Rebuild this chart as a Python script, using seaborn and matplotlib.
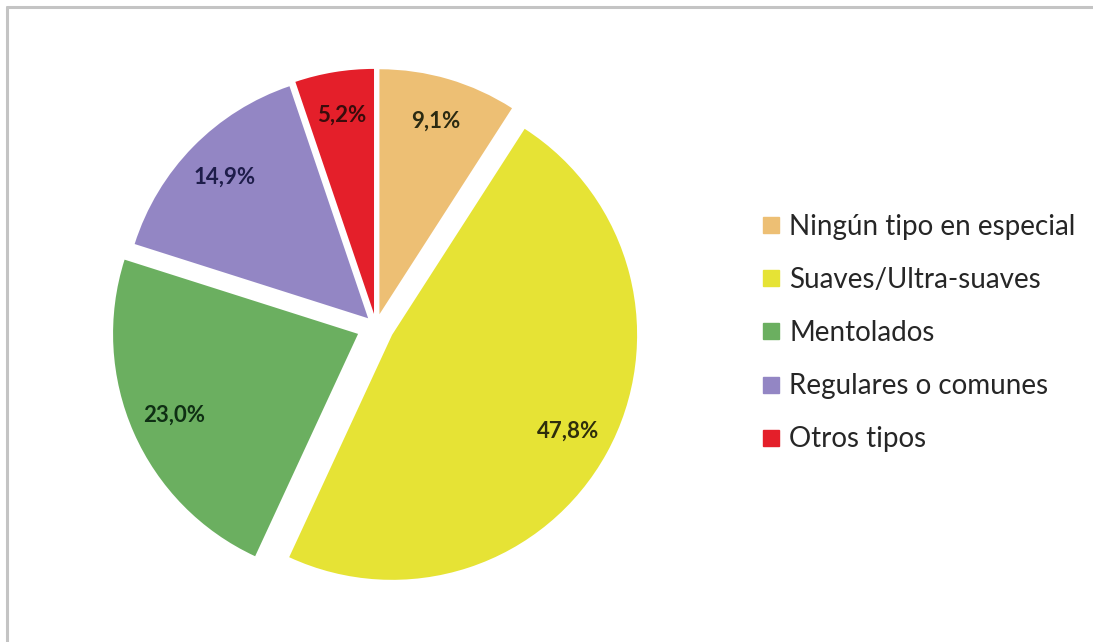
import matplotlib
matplotlib.use('Agg')
import numpy as np
import matplotlib.pyplot as plt
import seaborn as sns
from matplotlib.lines import Line2D

# datos
categorias = ['Ningún tipo en especial', 'Suaves/Ultra-suaves', 'Mentolados',
              'Regulares o comunes', 'Otros tipos']
porcentajes = [9.1, 47.8, 23.0, 14.9, 5.2]
etiquetas = ['9,1%', '47,8%', '23,0%', '14,9%', '5,2%']
separacion = [0.05, 0.075, 0.08, 0.045, 0.05]
colores = ['#EDBF74', '#E6E335', '#6BAF60', '#9386C4', '#E41F2A']
colores_texto = ['#2b2a12', '#2e2e0c', '#0f2f14', '#1e1d4a', '#3a0c0c']

sns.set_theme(style='white')
plt.rcParams['font.family'] = ['Lato', 'DejaVu Sans']

W, H = 1093, 642
fig = plt.figure(figsize=(W / 100, H / 100), dpi=100)
fig.patch.set_facecolor('white')

# centro del pastel y radio en pixeles
cx, cy, r = 376, 326, 245
half = 1.25 * r
ax = fig.add_axes([(cx - half) / W, (H - cy - half) / H, 2 * half / W, 2 * half / H])
ax.set_xlim(-1.25, 1.25)
ax.set_ylim(-1.25, 1.25)
ax.set_aspect('equal')
ax.axis('off')

wedges, textos = ax.pie(porcentajes, colors=colores, startangle=90, counterclock=False,
                        explode=separacion, radius=1.0,
                        wedgeprops=dict(linewidth=0))

# etiquetas de porcentaje
for w, lab, col in zip(wedges, etiquetas, colores_texto):
    ang = np.deg2rad((w.theta1 + w.theta2) / 2)
    cxw, cyw = w.center
    d = 0.82
    ax.text(cxw + d * np.cos(ang), cyw + d * np.sin(ang), lab, ha='center', va='center',
            fontsize=16, fontweight='bold', color=col)

# leyenda
handles = [Line2D([0], [0], marker='s', linestyle='none', markersize=11,
                  markerfacecolor=c, markeredgecolor=c) for c in colores]
fig.legend(handles, categorias, loc='center left',
           bbox_to_anchor=(735 / W, 1 - 333 / H), frameon=False,
           fontsize=20, labelspacing=0.98, handlelength=0.8, handletextpad=0.25,
           labelcolor='#262626')

# marco gris
fig.add_artist(Line2D([7 / W, 7 / W], [0, 1 - 7 / H], transform=fig.transFigure,
                      color='#c4c4c4', linewidth=2.2))
fig.add_artist(Line2D([7 / W, 1], [1 - 7 / H, 1 - 7 / H], transform=fig.transFigure,
                      color='#c4c4c4', linewidth=2.2))

fig.savefig('out.png', dpi=100, facecolor='white')
